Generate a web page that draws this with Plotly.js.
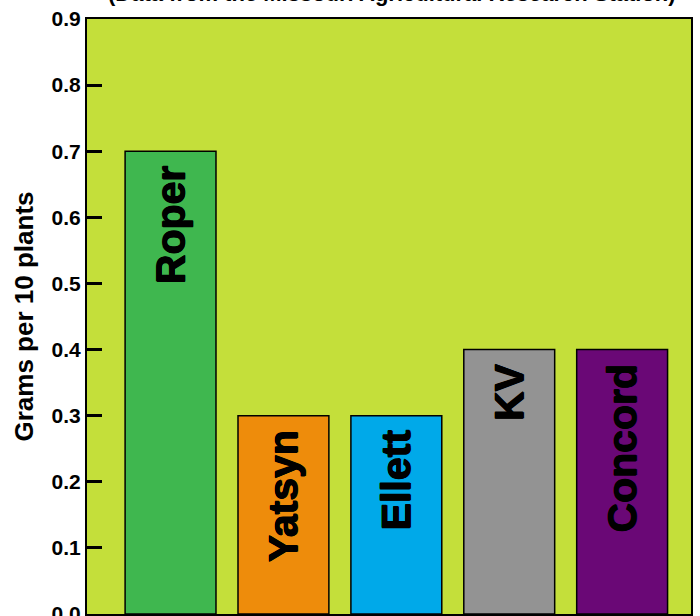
<!DOCTYPE html>
<html>
<head>
<meta charset="utf-8">
<script src="https://cdn.plot.ly/plotly-3.0.1.min.js"></script>
<style>html,body{margin:0;padding:0;background:#fff;}#chart{width:700px;height:616px;}</style>
</head>
<body>
<div id="chart"></div>
<script>
const varieties = ["Roper", "Yatsyn", "Ellett", "KV", "Concord"];
const gramsPer10Plants = [0.7, 0.3, 0.3, 0.4, 0.4];
const barColors = ["#3fb74f", "#ee8c0b", "#00a9e9", "#939393", "#6a0876"];
const yTickValues = [0, 0.1, 0.2, 0.3, 0.4, 0.5, 0.6, 0.7, 0.8, 0.9];
const chartTitle = "(Data from the Missouri Agricultural Research Station)";
const yAxisTitle = "Grams per 10 plants";

const heavy = "0.6px 0 0 #000, -0.6px 0 0 #000, 0 0.6px 0 #000, 0 -0.6px 0 #000";

const trace = {
  type: "bar",
  x: varieties,
  y: gramsPer10Plants,
  text: varieties,
  texttemplate: "%{text}\u00a0",
  textposition: "inside",
  insidetextanchor: "end",
  textangle: -90,
  constraintext: "none",
  insidetextfont: {family: "Liberation Sans, Arial, sans-serif", size: 41, color: "#000", weight: "bold", shadow: heavy},
  marker: {color: barColors, line: {color: "#000", width: 1.5}},
  hoverinfo: "none"
};

const layout = {
  width: 700,
  height: 616,
  margin: {l: 87, r: 9, t: 19, b: 2, pad: 0},
  paper_bgcolor: "#ffffff",
  plot_bgcolor: "#c4df3a",
  showlegend: false,
  bargap: 0.195,
  annotations: [{
    text: "<b>" + chartTitle + "</b>",
    xref: "paper", yref: "paper",
    x: 0.505, y: 1,
    xanchor: "center", yanchor: "bottom",
    yshift: 11,
    showarrow: false,
    font: {family: "Liberation Sans, Arial, sans-serif", size: 22, color: "#000"}
  }],
  xaxis: {
    type: "category",
    range: [-0.74, 4.61],
    showticklabels: false,
    ticks: "",
    showgrid: false,
    zeroline: false,
    showline: true,
    mirror: true,
    linecolor: "#000",
    linewidth: 2
  },
  yaxis: {
    range: [0, 0.9],
    tickvals: yTickValues,
    tickformat: ".1f",
    ticks: "inside",
    ticklen: 15,
    tickwidth: 3,
    tickcolor: "#000",
    ticklabeloverflow: "allow",
    showgrid: false,
    zeroline: false,
    showline: true,
    mirror: true,
    linecolor: "#000",
    linewidth: 2,
    tickfont: {family: "Liberation Sans, Arial, sans-serif", size: 21, color: "#000", weight: "bold"},
    title: {
      text: "<b>" + yAxisTitle + "</b>",
      font: {family: "Liberation Sans, Arial, sans-serif", size: 26, color: "#000"},
      standoff: 10
    }
  }
};

Plotly.newPlot("chart", [trace], layout, {displayModeBar: false, staticPlot: true});
</script>
</body>
</html>
